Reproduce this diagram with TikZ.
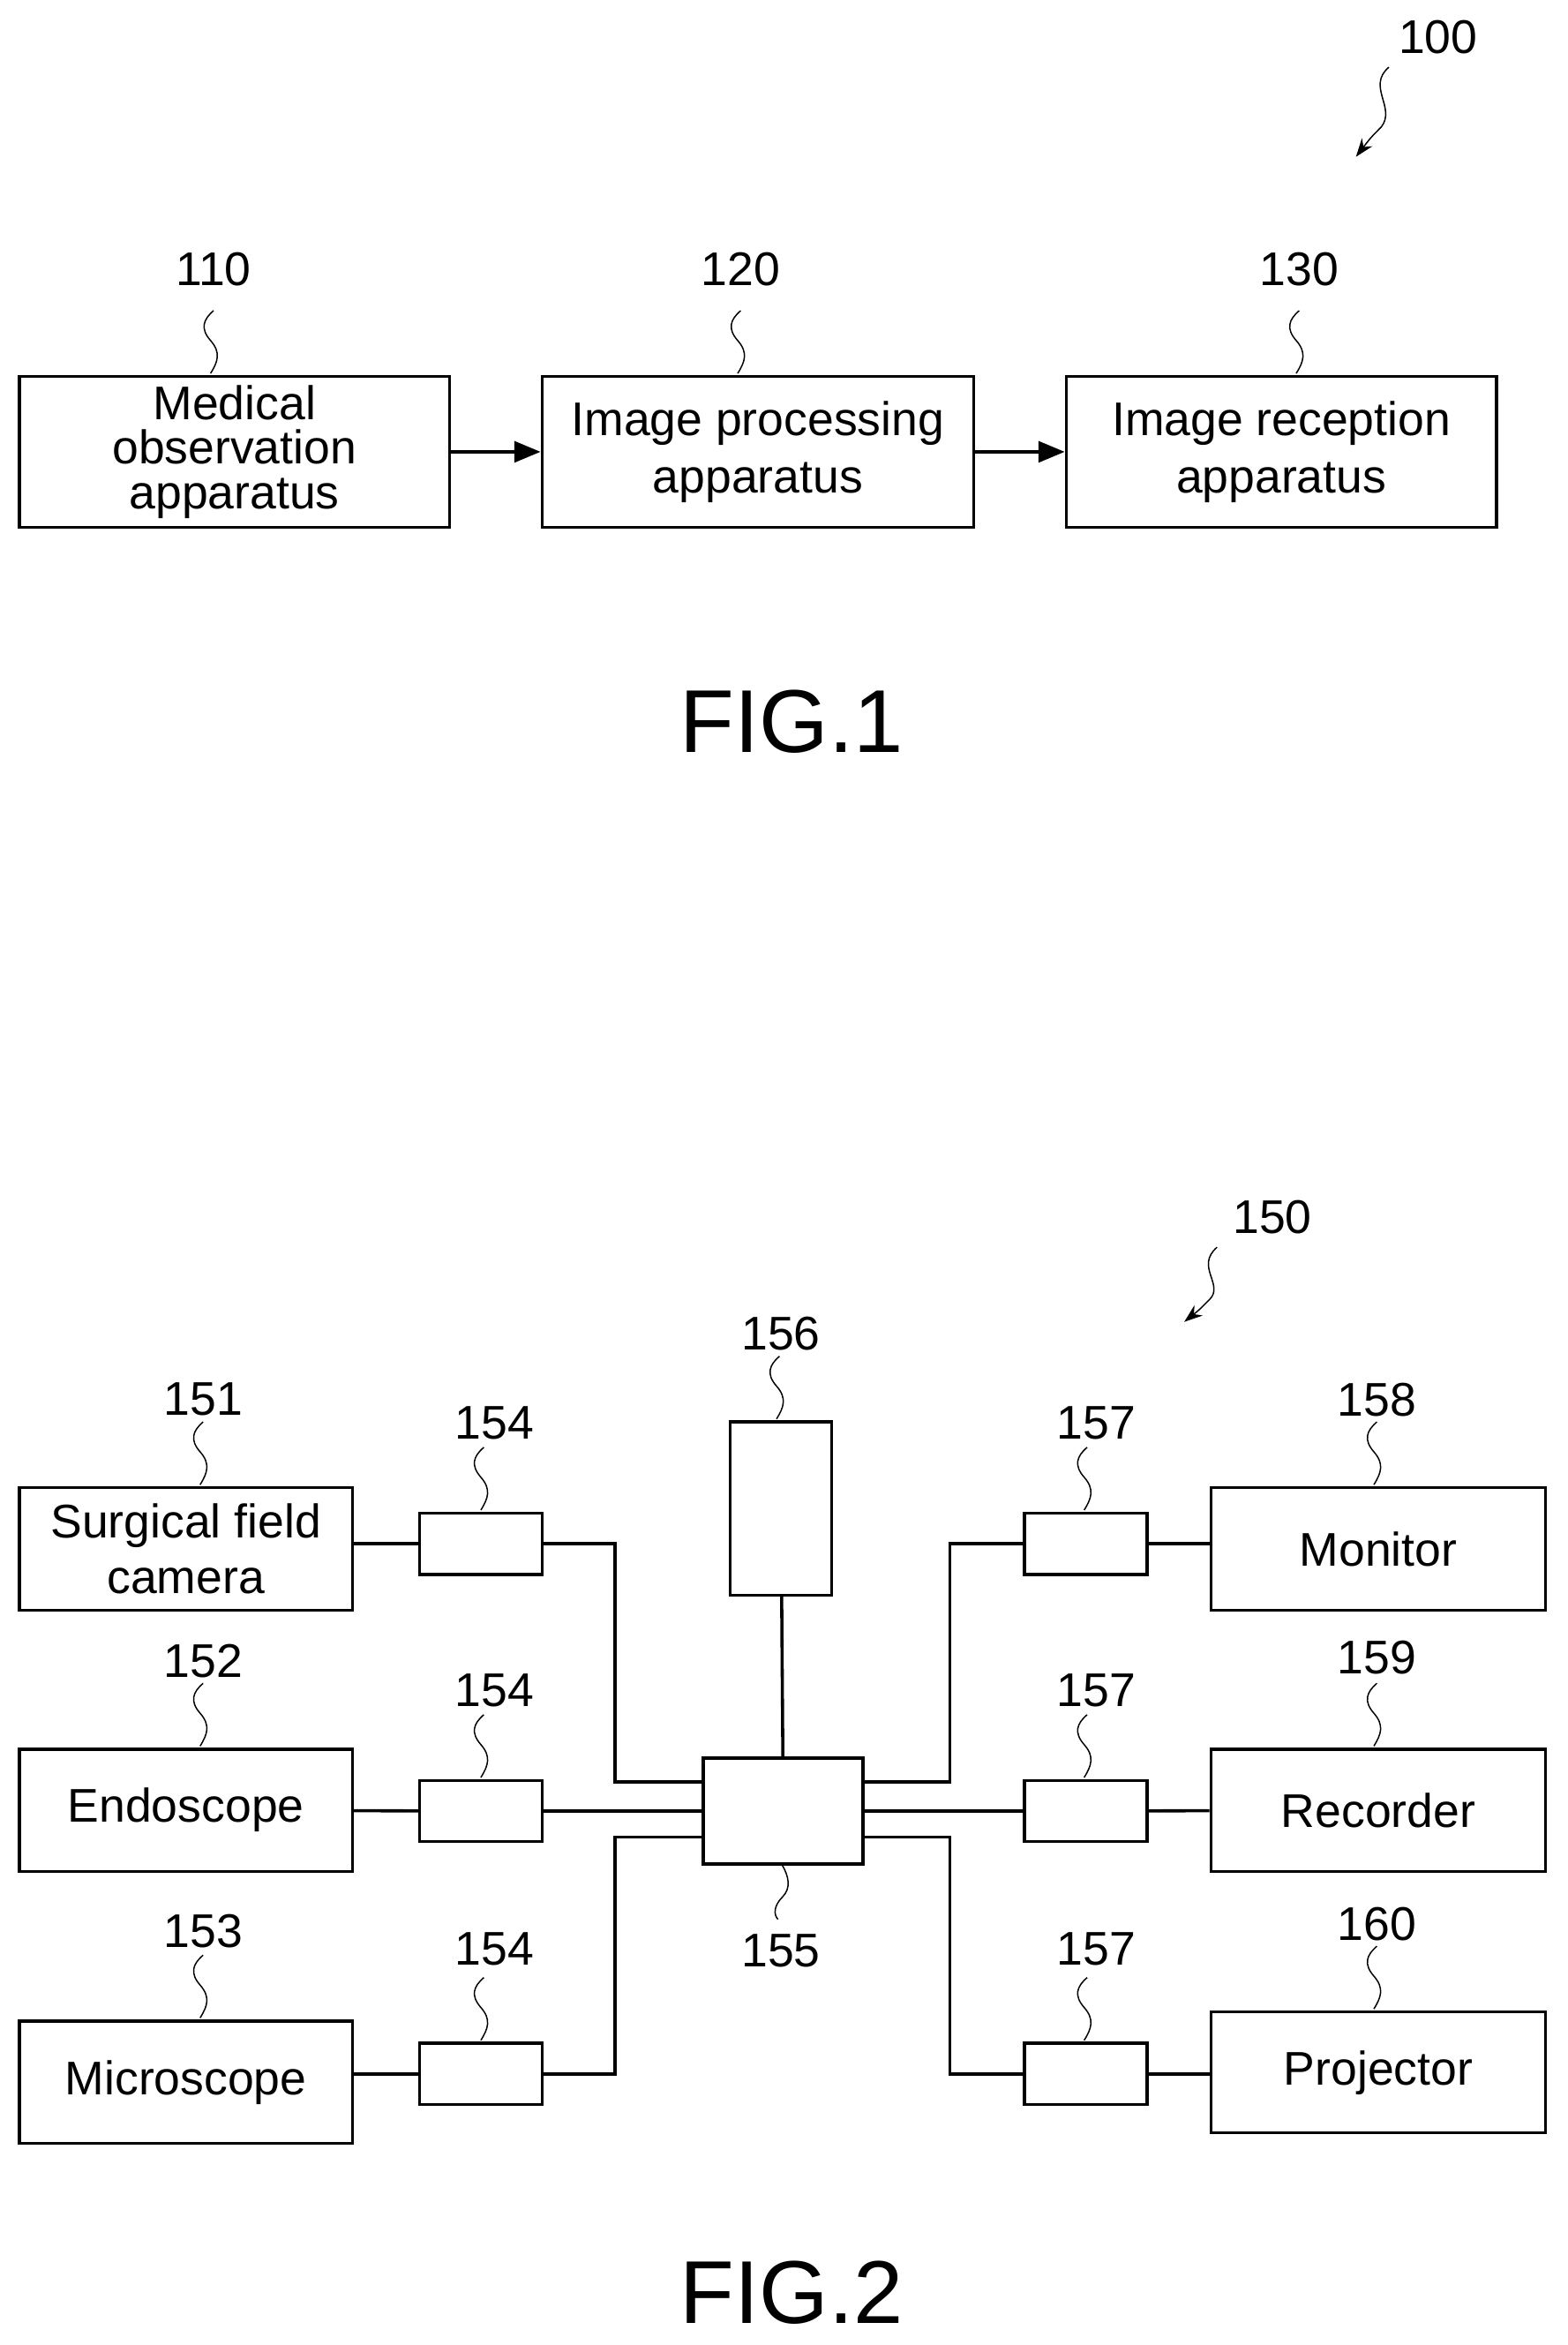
\documentclass[tikz,border=0pt]{standalone}
\usepackage{fontspec}
\setmainfont{Liberation Sans}
\usetikzlibrary{arrows.meta}
\begin{document}
\begin{tikzpicture}[x=0.2mm,y=-0.2mm,
 box/.style={draw,line width=1.2pt,align=center,inner sep=0pt,font=\fontsize{18}{19}\selectfont},
 lab/.style={font=\fontsize{18}{19}\selectfont},
 ln/.style={line width=1.2pt},
 sq/.style={line width=0.5pt},
 fig/.style={font=\fontsize{34}{36}\selectfont}]
\useasboundingbox (0,0) rectangle (1050,1570);
\def\bx#1#2#3#4#5#6{\node[box,minimum width=#4*0.2mm-#2*0.2mm,minimum height=#5*0.2mm-#3*0.2mm] (#1) at ({(#2+#4)/2},{(#3+#5)/2}) {#6};}
\def\squig#1#2#3{%
 \draw[sq] (#2,#3) .. controls (#2+5,#3-8) and (#2+7,#3-14) .. (#2,#3-22) .. controls (#2-7,#3-30) and (#2-5,#3-36) .. (#2+2,#3-42);}
% FIG 1
\bx{a}{13}{252}{301}{353}{Medical\\[-2pt]observation\\[-2pt]apparatus}
\bx{b}{363}{252}{652}{353}{Image processing\\[3pt]apparatus}
\bx{c}{714}{252}{1002}{353}{Image reception\\[3pt]apparatus}
\draw[ln,-{Triangle[length=10pt,width=8pt]}] (a) -- (b);
\draw[ln,-{Triangle[length=10pt,width=8pt]}] (b) -- (c);
\node[lab] (l110) at (143,180) {110}; \squig{l110}{141}{250}
\node[lab] (l120) at (496,180) {120}; \squig{l120}{494}{250}
\node[lab] (l130) at (870,180) {130}; \squig{l130}{868}{250}
\node[lab] (l100) at (963,25) {100};
\coordinate (p100) at (908,105);
\draw[sq,-{Stealth[length=7pt,width=5pt]}] (930,45) .. controls (915,58) and (935,72) .. (925,85) .. controls (918,92) .. (p100);
\node[fig] (f1) at (530,483) {FIG.1};
% FIG 2
\bx{s151}{13}{996}{236}{1078}{Surgical field\\[2pt]camera}
\bx{s152}{13}{1171}{236}{1253}{Endoscope}
\bx{s153}{13}{1353}{236}{1435}{Microscope}
\bx{aa}{281}{1013}{363}{1054}{}
\bx{ab}{281}{1192}{363}{1233}{}
\bx{ac}{281}{1368}{363}{1409}{}
\bx{s156}{489}{952}{557}{1068}{}
\bx{s155}{471}{1177}{578}{1248}{}
\bx{ba}{686}{1013}{768}{1054}{}
\bx{bb}{686}{1192}{768}{1233}{}
\bx{bc}{686}{1368}{768}{1409}{}
\bx{s158}{811}{996}{1035}{1078}{Monitor}
\bx{s159}{811}{1171}{1035}{1253}{Recorder}
\bx{s160}{811}{1347}{1035}{1428}{Projector}
\draw[ln] (s151.east|-aa) -- (aa.west);
\draw[ln] (s152) -- (ab);
\draw[ln] (s153.east|-ac) -- (ac.west);
\draw[ln] (ba.east) -- (s158.west|-ba);
\draw[ln] (bb) -- (s159);
\draw[ln] (bc.east) -- (s160.west|-bc);
\draw[ln] (aa.east) -| (412,1193) -- (s155.west|-0,1193);
\draw[ln] (ab.east) -- (s155.west|-ab);
\draw[ln] (ac.east) -| (412,1230) -- (s155.west|-0,1230);
\draw[ln] (ba.west) -| (636,1193) -- (s155.east|-0,1193);
\draw[ln] (bb.west) -- (s155.east|-bb);
\draw[ln] (bc.west) -| (636,1230) -- (s155.east|-0,1230);
\draw[ln] (s156) -- (s155);
\node[lab] (l151) at (136,937) {151}; \squig{l151}{134}{994}
\node[lab] (l152) at (136,1112) {152}; \squig{l152}{134}{1169}
\node[lab] (l153) at (136,1293) {153}; \squig{l153}{134}{1351}
\node[lab] (l154a) at (331,953) {154}; \squig{l154a}{322}{1011}
\node[lab] (l154b) at (331,1132) {154}; \squig{l154b}{322}{1190}
\node[lab] (l154c) at (331,1305) {154}; \squig{l154c}{322}{1366}
\node[lab] (l156) at (523,893) {156}; \squig{l156}{520}{950}
\node[lab] (l155) at (523,1306) {155};
\draw[sq] (524,1249) .. controls (528,1256) and (530,1264) .. (524,1270) .. controls (518,1276) and (518,1282) .. (521,1285);
\node[lab] (l157a) at (734,953) {157}; \squig{l157a}{726}{1011}
\node[lab] (l157b) at (734,1132) {157}; \squig{l157b}{726}{1190}
\node[lab] (l157c) at (734,1305) {157}; \squig{l157c}{726}{1366}
\node[lab] (l158) at (922,937) {158}; \squig{l158}{920}{994}
\node[lab] (l159) at (922,1110) {159}; \squig{l159}{920}{1169}
\node[lab] (l160) at (922,1288) {160}; \squig{l160}{920}{1345}
\node[lab] (l150) at (852,815) {150};
\coordinate (p150) at (793,885);
\draw[sq,-{Stealth[length=7pt,width=5pt]}] (815,835) .. controls (800,848) and (820,860) .. (810,870) .. controls (803,877) .. (p150);
\node[fig] (f2) at (530,1535) {FIG.2};
\end{tikzpicture}
\end{document}
